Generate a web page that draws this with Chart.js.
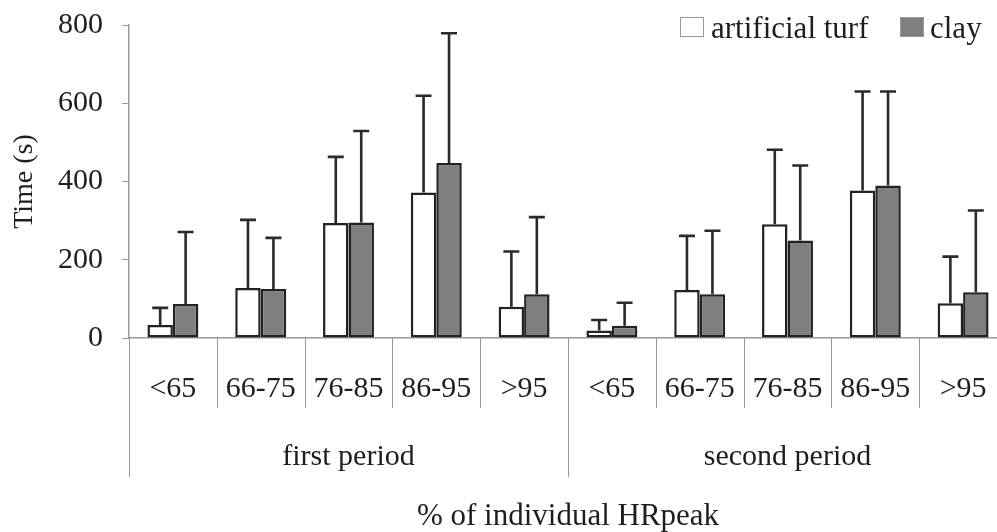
<!DOCTYPE html>
<html>
<head>
<meta charset="utf-8">
<script src="https://cdn.jsdelivr.net/npm/chart.js@4"></script>
<style>
  html, body { margin: 0; padding: 0; background: #fff; overflow: hidden; }
</style>
</head>
<body>
<canvas id="hr_chart" width="1010" height="532"></canvas>
<script>
// categories
var zones = ['<65', '66-75', '76-85', '86-95', '>95', '<65', '66-75', '76-85', '86-95', '>95'];
var periods = ['first period', 'second period'];

// means and SD (seconds)
var turfMean = [33, 128, 294, 372, 80, 19, 123, 291, 377, 89];
var turfSD   = [44, 174, 169, 247, 141, 27, 138, 190, 253, 119];
var clayMean = [87, 125, 295, 447, 112, 31, 112, 249, 390, 117];
var claySD   = [184, 131, 234, 332, 197, 59, 162, 192, 240, 209];

var yTicks = [0, 200, 400, 600, 800];

var serif = '"Liberation Serif", "Times New Roman", serif';
var ink = '#1e1e1e';
var axisGray = '#999';

// error bars, only upward
var errorBars = {
    id: 'errorBars',
    afterDatasetsDraw: function(chart) {
        var ctx = chart.ctx;
        var y = chart.scales.y;
        var sds = [turfSD, claySD];
        ctx.save();
        ctx.strokeStyle = '#2a2a2a';
        ctx.lineWidth = 2.6;
        chart.data.datasets.forEach(function(ds, i) {
            chart.getDatasetMeta(i).data.forEach(function(bar, j) {
                var top = y.getPixelForValue(ds.data[j] + sds[i][j]);
                ctx.beginPath();
                ctx.moveTo(bar.x, bar.y);
                ctx.lineTo(bar.x, top);
                ctx.moveTo(bar.x - 8, top);
                ctx.lineTo(bar.x + 8, top);
                ctx.stroke();
            });
        });
        ctx.restore();
    }
};

// two level category axis + legend
var groupAxis = {
    id: 'groupAxis',
    afterDraw: function(chart) {
        var ctx = chart.ctx;
        var x = chart.scales.x;
        var area = chart.chartArea;
        var base = area.bottom;
        var step = x.getPixelForValue(1) - x.getPixelForValue(0);
        ctx.save();
        ctx.strokeStyle = axisGray;
        ctx.lineWidth = 1;
        // separators
        for (var i = 0; i <= zones.length; i++) {
            var px = Math.round(x.getPixelForValue(i) - step / 2) + 0.5;
            var long = (i % 5 === 0);
            ctx.beginPath();
            ctx.moveTo(px, base);
            ctx.lineTo(px, long ? base + 139 : base + 70);
            ctx.stroke();
        }
        ctx.fillStyle = ink;
        ctx.textAlign = 'center';
        ctx.textBaseline = 'alphabetic';
        ctx.font = '30px ' + serif;
        zones.forEach(function(z, i) {
            ctx.fillText(z, x.getPixelForValue(i), base + 59);
        });
        periods.forEach(function(p, k) {
            var cx = (x.getPixelForValue(k * 5) + x.getPixelForValue(k * 5 + 4)) / 2;
            ctx.fillText(p, cx, base + 127);
        });
        ctx.font = '31px ' + serif;
        ctx.fillText('% of individual HRpeak', (area.left + area.right) / 2, base + 187);

        // legend
        ctx.font = '31px ' + serif;
        ctx.textAlign = 'left';
        ctx.fillStyle = '#fff';
        ctx.strokeStyle = axisGray;
        ctx.fillRect(680, 17, 24, 20);
        ctx.strokeRect(680.5, 17.5, 23, 19);
        ctx.fillStyle = ink;
        ctx.fillText('artificial turf', 711, 38);
        ctx.fillStyle = '#7f7f7f';
        ctx.fillRect(900, 17, 24, 20);
        ctx.strokeRect(900.5, 17.5, 23, 19);
        ctx.fillStyle = ink;
        ctx.fillText('clay', 930, 38);
        ctx.restore();
    }
};

var canvas = document.getElementById('hr_chart');

var chartData = {
    labels: zones,
    datasets: [{
        label: 'artificial turf',
        data: turfMean,
        backgroundColor: '#ffffff',
        borderColor: '#222',
        borderWidth: 2.5,
        borderSkipped: false,
        categoryPercentage: 0.58,
        barPercentage: 1.0
    }, {
        label: 'clay',
        data: clayMean,
        backgroundColor: '#7f7f7f',
        borderColor: '#222',
        borderWidth: 2.5,
        borderSkipped: false,
        categoryPercentage: 0.58,
        barPercentage: 1.0
    }]
};

var chartOptions = {
    responsive: false,
    animation: false,
    layout: { padding: { top: 25, right: 3, left: 0, bottom: 0 } },
    plugins: {
        legend: { display: false },
        tooltip: { enabled: false }
    },
    scales: {
        x: {
            grid: { display: false },
            border: { display: true, color: axisGray, width: 1.5 },
            ticks: { display: false },
            afterFit: function(s) { s.height = 194; s.paddingLeft = 0; s.paddingRight = 0; }
        },
        y: {
            min: 0,
            max: 800,
            afterBuildTicks: function(s) {
                s.ticks = yTicks.map(function(v) { return { value: v }; });
            },
            grid: { display: true, drawOnChartArea: false, drawTicks: true, tickLength: 7, color: axisGray },
            border: { display: true, color: axisGray, width: 1.5 },
            ticks: {
                padding: 19,
                color: ink,
                font: { family: serif, size: 30 }
            },
            title: {
                display: true,
                text: 'Time (s)',
                color: ink,
                font: { family: serif, size: 28 },
                padding: { top: 8, bottom: 0 }
            },
            afterFit: function(s) { s.width = 129; s.paddingTop = 0; s.paddingBottom = 0; }
        }
    }
};

new Chart(canvas, {
    type: 'bar',
    data: chartData,
    options: chartOptions,
    plugins: [errorBars, groupAxis]
});
</script>
</body>
</html>
